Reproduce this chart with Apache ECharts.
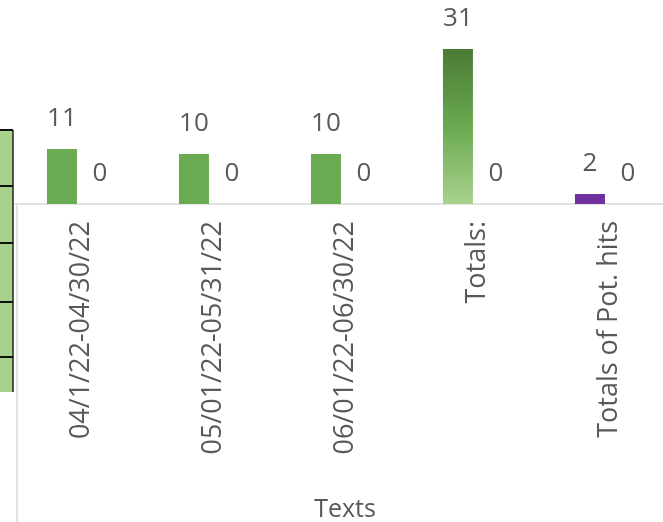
<!DOCTYPE html>
<html>
<head>
<meta charset="utf-8">
<script src="https://cdn.jsdelivr.net/npm/echarts@6/dist/echarts.min.js"></script>
<style>
  html, body { margin: 0; padding: 0; background: #fff; }
  #chart { width: 663px; height: 522px; }
</style>
</head>
<body>
<div id="chart"></div>
<script>
// 카테고리 / 값
const categories = ['04/1/22-04/30/22', '05/01/22-05/31/22', '06/01/22-06/30/22', 'Totals:', 'Totals of Pot. hits'];
const hitValues = [11, 10, 10, 31, 2];
const zeroValues = [0, 0, 0, 0, 0];

const fontFamily = '"Open Sans", "DejaVu Sans", sans-serif';
const textColor = '#595959';

const green = '#6aaa50';
const totalsGradient = {
  type: 'linear', x: 0, y: 0, x2: 0, y2: 1,
  colorStops: [
    { offset: 0, color: '#4a7a34' },
    { offset: 0.5, color: '#6aaa50' },
    { offset: 1, color: '#a9d18e' }
  ]
};
const barColors = [green, green, green, totalsGradient, '#7030a0'];

const chart = echarts.init(document.getElementById('chart'));

// 왼쪽에 보이는 표 조각 (배경 장식)
const cellLines = [130, 186, 243, 302, 357];
const tableGraphic = [
  { type: 'rect', shape: { x: 0, y: 130, width: 13, height: 262 }, style: { fill: '#a9d18e' }, silent: true },
  { type: 'line', shape: { x1: 13, y1: 130, x2: 13, y2: 392 }, style: { stroke: '#222', lineWidth: 1.5 }, silent: true },
  { type: 'line', shape: { x1: 17, y1: 205, x2: 17, y2: 522 }, style: { stroke: '#d9d9d9', lineWidth: 1.5 }, silent: true }
].concat(cellLines.map(function (y) {
  return { type: 'line', shape: { x1: 0, y1: y, x2: 13, y2: y }, style: { stroke: '#111', lineWidth: 2 }, silent: true };
}));

const option = {
  backgroundColor: '#fff',
  animation: false,
  graphic: tableGraphic,
  // 오른쪽은 잘려 있음 (차트가 화면 밖으로 이어짐)
  grid: { left: 15, width: 660, top: 4, height: 200, containLabel: false, outerBoundsMode: 'none' },
  xAxis: {
    type: 'category',
    data: categories,
    name: 'Texts',
    nameLocation: 'middle',
    nameGap: 293,
    nameTextStyle: { color: textColor, fontSize: 25, fontFamily: fontFamily },
    axisLine: { lineStyle: { color: '#d9d9d9', width: 1.5 } },
    axisTick: { show: false },
    axisLabel: {
      rotate: 90,
      margin: 17,
      color: textColor,
      fontSize: 27,
      fontFamily: fontFamily,
      interval: 0
    }
  },
  yAxis: {
    type: 'value',
    min: 0,
    max: 40,
    show: false,
    splitLine: { show: false }
  },
  series: [
    {
      name: 'Hits',
      type: 'bar',
      barWidth: 30,
      barGap: '27%',
      data: hitValues.map(function (v, i) {
        return { value: v, itemStyle: { color: barColors[i] } };
      }),
      label: {
        show: true,
        position: 'top',
        distance: 17,
        color: textColor,
        fontSize: 26,
        fontFamily: fontFamily
      }
    },
    {
      name: 'Pot. hits',
      type: 'bar',
      barWidth: 30,
      data: zeroValues,
      itemStyle: { color: '#a5a5a5' },
      label: {
        show: true,
        position: 'top',
        distance: 17,
        color: textColor,
        fontSize: 26,
        fontFamily: fontFamily
      }
    }
  ]
};

chart.setOption(option);
</script>
</body>
</html>
